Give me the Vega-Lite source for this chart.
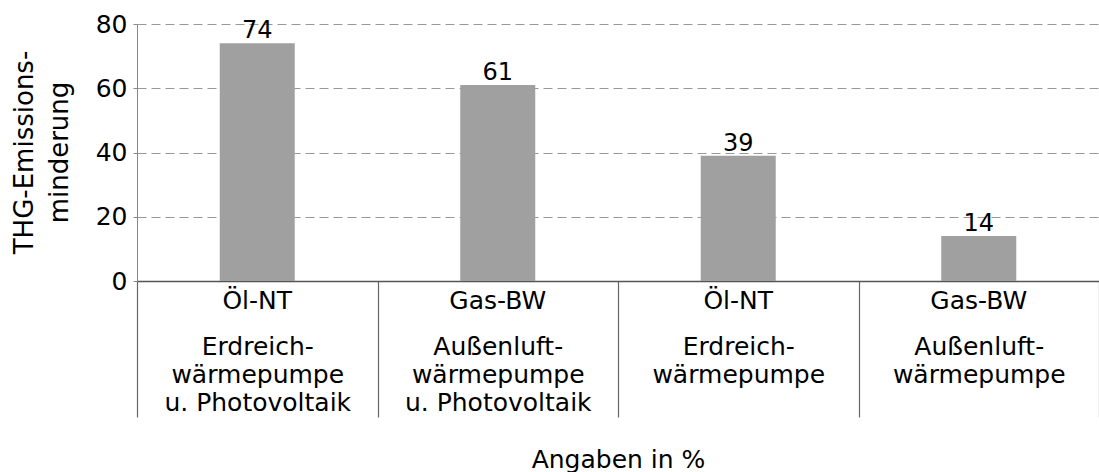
{
  "$schema": "https://vega.github.io/schema/vega-lite/v6.json",
  "autosize": {"type": "none"},
  "width": 962,
  "height": 257,
  "padding": {"left": 137, "top": 24, "right": 0, "bottom": 191},
  "background": "white",
  "config": {
    "view": {"stroke": null},
    "font": "DejaVu Sans",
    "axis": {"labelFont": "DejaVu Sans", "titleFont": "DejaVu Sans", "labelColor": "black", "titleColor": "black", "titleFontWeight": "normal"}
  },
  "data": {
    "values": [
      {"kat": "Öl-NT|Erdreich-|wärmepumpe|u. Photovoltaik", "wert": 74},
      {"kat": "Gas-BW|Außenluft-|wärmepumpe|u. Photovoltaik", "wert": 61},
      {"kat": "Öl-NT|Erdreich-|wärmepumpe ", "wert": 39},
      {"kat": "Gas-BW|Außenluft-|wärmepumpe  ", "wert": 14}
    ]
  },
  "resolve": {"axis": {"x": "independent"}},
  "layer": [
    {
      "mark": {"type": "bar", "width": 75, "color": "#a0a0a0"},
      "encoding": {
        "x": {
          "field": "kat", "type": "nominal", "sort": null,
          "scale": {"paddingInner": 0, "paddingOuter": 0},
          "axis": {
            "orient": "bottom",
            "title": "Angaben in %",
            "titleFontSize": 25,
            "titleX": 481,
            "titleY": 186,
            "titleBaseline": "alphabetic",
            "titleAlign": "center",
            "titleAnchor": "middle",
            "labelExpr": "slice(split(datum.label, '|'), 1)",
            "labelFontSize": 25,
            "labelLineHeight": 28,
            "labelAngle": 0,
            "labelBaseline": "alphabetic",
            "labelPadding": -63,
            "labelLimit": 0,
            "ticks": true,
            "tickBand": "extent",
            "tickSize": 136,
            "tickColor": "#666",
            "tickWidth": 1.2,
            "domain": true,
            "domainColor": "#555",
            "domainWidth": 1.5,
            "grid": false
          }
        },
        "y": {
          "field": "wert", "type": "quantitative",
          "scale": {"domain": [0, 80]},
          "axis": {
            "values": [0, 20, 40, 60, 80],
            "title": ["THG-Emissions-", "minderung"],
            "titleFontSize": 26,
            "titleLineHeight": 35,
            "titleAngle": -90,
            "titleX": -105,
            "titleY": 128,
            "titleBaseline": "alphabetic",
            "titleAlign": "center",
            "labelFontSize": 25,
            "labelPadding": 6,
            "labelBaseline": "middle",
            "tickSize": 4,
            "tickColor": "#888",
            "domain": true,
            "domainColor": "#888",
            "grid": true,
            "gridColor": "#999",
            "gridDash": [9, 5],
            "gridWidth": 1
          }
        }
      }
    },
    {
      "mark": {"type": "text", "fontSize": 24, "baseline": "alphabetic", "dy": -5, "color": "black", "font": "DejaVu Sans"},
      "encoding": {
        "x": {
          "field": "kat", "type": "nominal", "sort": null,
          "axis": {
            "orient": "bottom",
            "title": null,
            "labelExpr": "split(datum.label, '|')[0]",
            "labelFontSize": 25,
            "labelAngle": 0,
            "labelBaseline": "alphabetic",
            "labelPadding": 27,
            "ticks": false,
            "tickSize": 0,
            "domain": false,
            "grid": false
          }
        },
        "y": {"field": "wert", "type": "quantitative"},
        "text": {"field": "wert", "type": "quantitative"}
      }
    }
  ]
}
